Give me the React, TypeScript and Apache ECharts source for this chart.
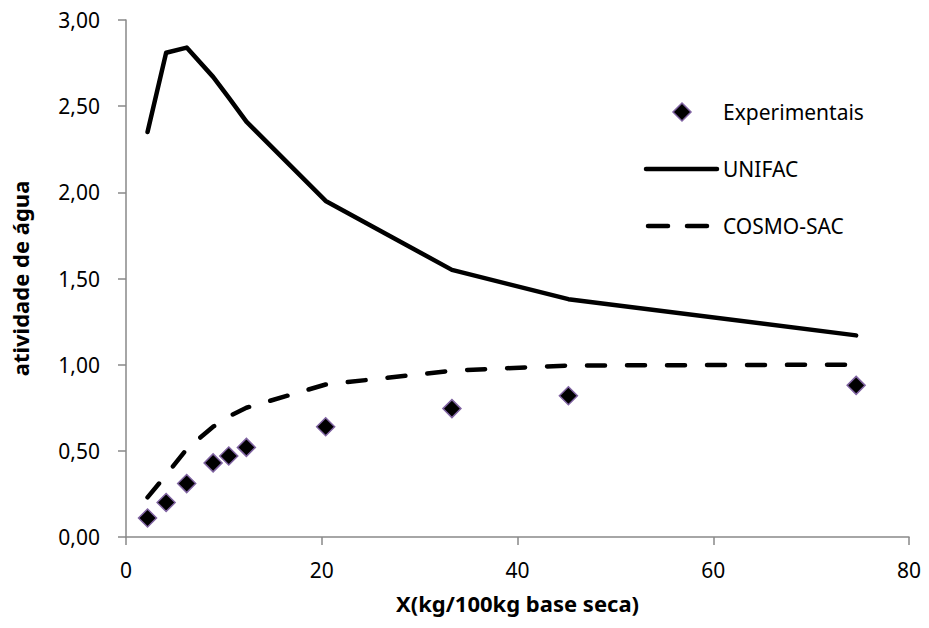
import React, { useEffect, useRef } from "react";
import * as echarts from "echarts";

const xValues = [2.2, 4.1, 6.2, 8.9, 10.5, 12.3, 20.4, 33.3, 45.2, 74.6];
const experimentais = [0.11, 0.2, 0.31, 0.43, 0.47, 0.52, 0.64, 0.745, 0.82, 0.88];
const unifac = [2.35, 2.81, 2.84, 2.67, 2.55, 2.41, 1.95, 1.55, 1.38, 1.17];
const cosmoSac = [0.23, 0.36, 0.51, 0.64, 0.7, 0.75, 0.885, 0.965, 0.995, 1.0];
const legendNames = ["Experimentais", "UNIFAC", "COSMO-SAC"];

const FONT = "'Noto Sans', 'Open Sans', sans-serif";
const AXIS_GRAY = "#898989";
const PURPLE = "#8064a2";
const LINE_W = 4.5;

export default function App() {
  const ref = useRef<HTMLDivElement>(null);

  useEffect(() => {
    document.body.style.margin = "0";
    const chart = echarts.init(ref.current!, null, { renderer: "svg" });
    const pair = (ys: number[]) => xValues.map((x, i) => [x, ys[i]]);

    const legX = 646;
    const legY0 = 112;
    const legStep = 57;
    const textStyle = { fill: "#000", font: `21px ${FONT}`, textVerticalAlign: "middle", textAlign: "left" };
    const legendGraphics: any[] = [
      {
        type: "polygon",
        shape: { points: [[682, legY0 - 9], [691, legY0], [682, legY0 + 9], [673, legY0]] },
        style: { fill: "#000", stroke: PURPLE, lineWidth: 1.5 },
      },
      {
        type: "line",
        shape: { x1: legX, y1: legY0 + legStep, x2: legX + 71, y2: legY0 + legStep },
        style: { stroke: "#000", lineWidth: LINE_W, lineCap: "round" },
      },
      {
        type: "line",
        shape: { x1: legX + 2, y1: legY0 + 2 * legStep, x2: legX + 22, y2: legY0 + 2 * legStep },
        style: { stroke: "#000", lineWidth: LINE_W, lineCap: "round" },
      },
      {
        type: "line",
        shape: { x1: legX + 41, y1: legY0 + 2 * legStep, x2: legX + 61, y2: legY0 + 2 * legStep },
        style: { stroke: "#000", lineWidth: LINE_W, lineCap: "round" },
      },
      ...legendNames.map((n, i) => ({
        type: "text",
        x: 723,
        y: legY0 + i * legStep,
        style: { ...textStyle, text: n },
      })),
    ];

    chart.setOption({
      animation: false,
      backgroundColor: "#ffffff",
      textStyle: { fontFamily: FONT },
      grid: { left: 126, right: 20, top: 20, bottom: 91, containLabel: false },
      graphic: legendGraphics,
      xAxis: {
        type: "value",
        min: 0,
        max: 80,
        interval: 20,
        name: "X(kg/100kg base seca)",
        nameLocation: "middle",
        nameGap: 55,
        nameTextStyle: { fontFamily: FONT, fontSize: 22, fontWeight: "bold", color: "#000" },
        axisLine: { show: true, lineStyle: { color: AXIS_GRAY, width: 1.5 } },
        axisTick: { show: true, length: 8, lineStyle: { color: AXIS_GRAY, width: 1.5 } },
        axisLabel: { margin: 22, fontFamily: FONT, fontSize: 21, color: "#000" },
        splitLine: { show: false },
      },
      yAxis: {
        type: "value",
        min: 0,
        max: 3,
        interval: 0.5,
        name: "atividade de água",
        nameLocation: "middle",
        nameGap: 95,
        nameTextStyle: { fontFamily: FONT, fontSize: 22, fontWeight: "bold", color: "#000" },
        axisLine: { show: true, lineStyle: { color: AXIS_GRAY, width: 1.5 } },
        axisTick: { show: true, length: 8, lineStyle: { color: AXIS_GRAY, width: 1.5 } },
        axisLabel: {
          margin: 26,
          fontFamily: FONT,
          fontSize: 21,
          color: "#000",
          formatter: (v: number) => v.toFixed(2).replace(".", ","),
        },
        splitLine: { show: false },
      },
      series: [
        {
          name: "UNIFAC",
          type: "line",
          data: pair(unifac),
          symbol: "none",
          showSymbol: false,
          lineStyle: { color: "#000", width: LINE_W, join: "round", cap: "round" },
          itemStyle: { color: "#000" },
          z: 2,
        },
        {
          name: "COSMO-SAC",
          type: "line",
          data: pair(cosmoSac),
          symbol: "none",
          showSymbol: false,
          lineStyle: { color: "#000", width: LINE_W, type: [18, 22], cap: "round" },
          itemStyle: { color: "#000" },
          z: 2,
        },
        {
          name: "Experimentais",
          type: "scatter",
          data: pair(experimentais),
          symbol: "diamond",
          symbolSize: 18,
          itemStyle: { color: "#000", borderColor: PURPLE, borderWidth: 1.5, opacity: 1 },
          z: 3,
        },
      ],
    });
    return () => chart.dispose();
  }, []);

  return (
    <div
      ref={ref}
      style={{ position: "absolute", left: 0, top: 0, width: 929, height: 628 }}
    />
  );
}
